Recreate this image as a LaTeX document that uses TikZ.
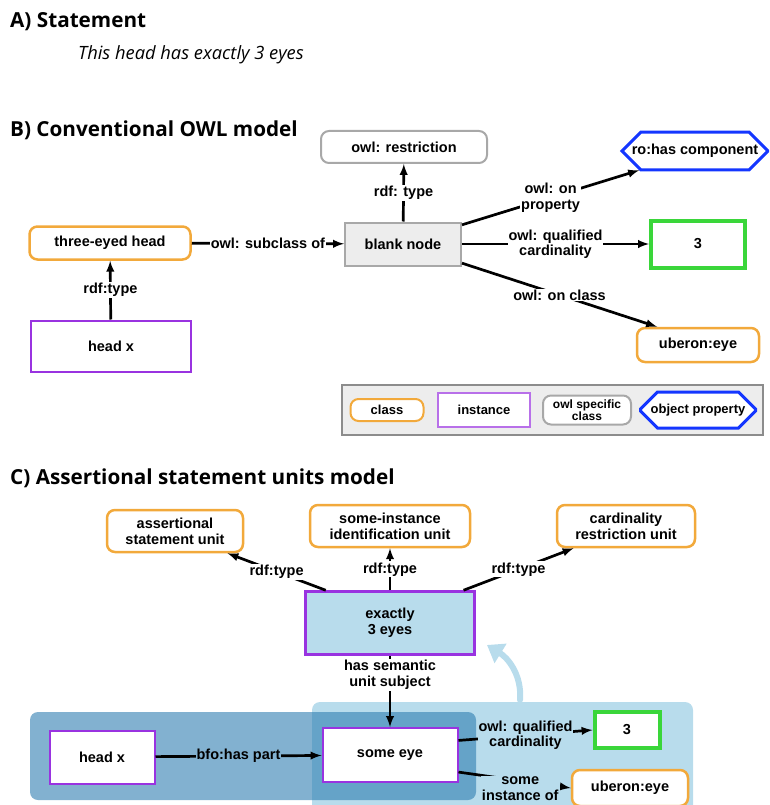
\documentclass[tikz,border=0pt]{standalone}
\usepackage{fontspec}
\setmainfont{Liberation Sans}
\newfontfamily\headfont{Open Sans}
\usetikzlibrary{arrows,arrows.meta,shapes.misc}

\definecolor{clsorange}{HTML}{F2A93B}
\definecolor{instpurple}{HTML}{9933E0}
\definecolor{owlgray}{HTML}{A8A8A8}
\definecolor{propblue}{HTML}{1436FF}
\definecolor{numgreen}{HTML}{3AD63A}
\definecolor{unitblue}{HTML}{B8DCEC}
\definecolor{darkunit}{HTML}{2E7DB0}
\definecolor{darklabel}{HTML}{82B1D0}

\begin{document}
\begin{tikzpicture}[x=1pt, y=-1pt,
  every node/.style={font=\fontsize{14.5}{16}\selectfont\bfseries, align=center, inner sep=2pt},
  cls/.style={draw=clsorange, line width=2.5pt, rounded corners=8pt, fill=white},
  inst/.style={draw=instpurple, line width=2pt, fill=white},
  owlcls/.style={draw=owlgray, line width=2pt, rounded corners=8pt, fill=white},
  objprop/.style={chamfered rectangle, chamfered rectangle xsep=16pt, chamfered rectangle ysep=10pt,
    draw=propblue, line width=3pt, fill=white, inner xsep=0pt},
  num/.style={draw=numgreen, line width=4pt, fill=white},
  blank/.style={draw=owlgray, line width=2pt, fill=black!7},
  lbl/.style={fill=white, inner sep=1pt, font=\fontsize{14.5}{15.5}\selectfont\bfseries},
  edge/.style={->, >=latex, line width=2.7pt},
  heading/.style={anchor=west, inner sep=0pt, font=\headfont\fontsize{20.7}{23}\selectfont\bfseries}
]
\clip (0,0) rectangle (769,805);

% A) statement
\node[heading] (headA) at (10,22) {A) Statement};
\node[anchor=west, inner sep=0pt, font=\headfont\fontsize{18.3}{20}\selectfont\itshape] (stmt) at (78,55) {This head has exactly 3 eyes};

% B) conventional OWL model
\node[heading] (headB) at (10,130) {B) Conventional OWL model};

\node[owlcls, minimum width=166, minimum height=32] (restr) at (404,147) {owl: restriction};
\node[cls, minimum width=161, minimum height=33] (threehead) at (110,243) {three-eyed head};
\node[blank, minimum width=116, minimum height=43] (blank) at (403,244) {blank node};
\node[inst, minimum width=160, minimum height=51] (headxB) at (111,346) {head x};
\node[objprop, minimum width=146, minimum height=34] (hascomp) at (695,151) {ro:has component};
\node[num, minimum width=94, minimum height=47] (threeB) at (698,244) {3};
\node[cls, minimum width=122, minimum height=34] (eyeB) at (698,345) {uberon:eye};

\path[edge] (headxB) edge node[lbl]{rdf:type} (threehead);
\path[edge] (threehead) edge node[lbl]{owl: subclass of} (blank);
\path[edge] (blank) edge node[lbl]{rdf: type} (restr);
\path[edge] (blank.18) edge node[lbl]{owl: on\\property} (hascomp.199);
\path[edge] (blank) edge node[lbl]{owl: qualified\\cardinality} (threeB);
\path[edge] (blank.-18) edge node[lbl]{owl: on class} (eyeB.156);

% legend
\node[draw=black!45, line width=1.5pt, fill=black!7, minimum width=421, minimum height=50] (legend) at (552.5,410) {};
\node[cls, line width=2pt, minimum width=73, minimum height=22, font=\fontsize{13}{14}\selectfont\bfseries] (lcls) at (387,410) {class};
\node[inst, line width=1.5pt, draw=instpurple!70, minimum width=92, minimum height=34, font=\fontsize{13}{14}\selectfont\bfseries] (linst) at (484,410) {instance};
\node[owlcls, minimum width=88, minimum height=29, inner sep=0pt, font=\fontsize{12}{10.5}\selectfont\bfseries] (lowl) at (587,410) {owl specific\\class};
\node[objprop, chamfered rectangle xsep=18pt, chamfered rectangle ysep=9pt, minimum width=115, minimum height=36, font=\fontsize{13}{14}\selectfont\bfseries] (lprop) at (698,410) {object property};

% C) assertional statement units model
\node[heading] (headC) at (10,478) {C) Assertional statement units model};

\fill[unitblue, rounded corners=8pt] (312,702) rectangle (693,815);
\fill[darkunit, opacity=0.6, rounded corners=8pt] (30,712) rectangle (476,800);

\node[cls, minimum width=136, minimum height=42] (asu) at (175,531) {assertional\\statement unit};
\node[cls, minimum width=160, minimum height=42] (siu) at (390,526) {some-instance\\identification unit};
\node[cls, minimum width=138, minimum height=42] (cru) at (626,526) {cardinality\\restriction unit};
\node[inst, line width=2.5pt, fill=unitblue, minimum width=169, minimum height=63] (exact) at (390,623) {exactly\\3 eyes};

\node[inst, minimum width=105, minimum height=53] (headxC) at (102,757) {head x};
\node[inst, minimum width=135, minimum height=54] (someeye) at (390,755) {some eye};
\node[num, minimum width=65, minimum height=36] (threeC) at (627,730) {3};
\node[cls, minimum width=116, minimum height=36] (eyeC) at (630,788) {uberon:eye};

\path[edge] (exact.153) edge node[lbl]{rdf:type} (asu.-23);
\path[edge] (exact) edge node[lbl]{rdf:type} (siu);
\path[edge] (exact.24) edge node[lbl]{rdf:type} (cru.203);
\path[edge] (exact) edge node[lbl, pos=0.27]{has semantic\\unit subject} (someeye);
\path[edge] (headxC) edge node[lbl, fill=darklabel]{bfo:has part} (someeye);
\path[edge] (someeye.12) edge node[lbl, fill=unitblue]{owl: qualified\\cardinality} (threeC.west);
\path[edge] (someeye.-14) edge node[lbl, fill=unitblue, pos=0.55, yshift=-8pt]{some\\instance of} (eyeC.west);

% unit pointer
\coordinate (ptrstart) at (520,700);
\coordinate (ptrend) at (487,645);
\draw[unitblue, line width=6pt, line cap=round, -{Triangle[length=16pt, width=22pt]}] (ptrstart) .. controls (522,675) and (508,658) .. (ptrend);
\end{tikzpicture}
\end{document}
